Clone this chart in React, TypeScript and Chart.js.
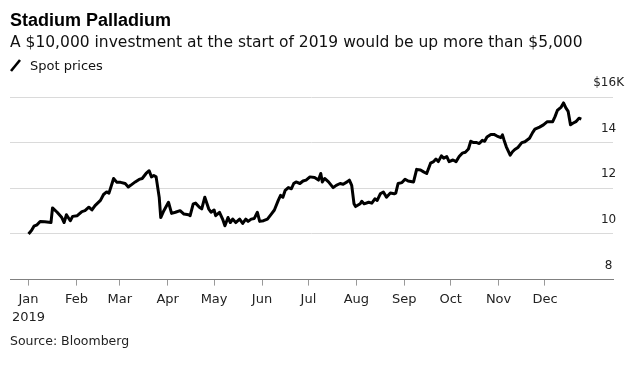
import React, { useEffect, useRef } from "react";
import { Chart, registerables } from "chart.js";

Chart.register(...registerables);

// Day of year 2019 (0 = Jan 1) and value of a $10,000 investment, in $K
const days = [
  0, 2, 3.5, 5.5, 7.5, 10.5, 14.5, 15.5, 18.5, 21.5, 23, 24.5, 27, 28.5, 31.5, 34.5, 36.5, 39, 41, 43,
  46.5, 48.5, 50.5, 52, 54, 55, 57, 59.5, 62.5, 64.5, 66, 69, 71.5, 73.5, 76, 78, 79.5, 81, 82.5, 84.5,
  85.5, 87.5, 90.5, 92.5, 95, 98, 100.5, 103.5, 104.5, 106.5, 108, 110.5, 112, 114, 116.5, 118, 120, 121,
  123.5, 125.5, 127, 129, 130.5, 132, 134, 136.5, 138.5, 140.5, 142, 144, 146, 148, 149.5, 152, 154.5,
  157, 159, 161.5, 163, 164.5, 166, 168, 170, 171.5, 173, 175.5, 177.5, 179.5, 182, 185, 187.5, 189, 190,
  191.5, 194, 197, 199, 201.5, 203.5, 206, 207.5, 209, 210.5, 211.5, 214.5, 215.5, 217, 220, 222, 224,
  225.5, 227.5, 229.5, 231.5, 234, 236.5, 237.5, 239, 241.5, 243.5, 245.5, 249, 251, 253.5, 255.5, 257.5,
  260, 262, 263.5, 265, 267, 268.5, 270.5, 272, 274.5, 276.5, 278.5, 280.5, 282.5, 284.5, 286, 287.5,
  289.5, 291.5, 293.5, 295, 296.5, 299, 301, 303, 305.5, 306.5, 307.5, 309, 311.5, 313, 314.5, 316.5, 319,
  321, 324, 326, 327.5, 330.5, 333, 335.5, 339, 340.5, 342, 344.5, 346, 347.5, 349, 350.5, 352, 354, 356,
  357.5,
];

const spotValues = [
  10.0, 10.16, 10.34, 10.4, 10.55, 10.53, 10.5, 11.14, 10.95, 10.72, 10.5, 10.84, 10.58, 10.77, 10.8, 10.98,
  11.02, 11.17, 11.05, 11.24, 11.47, 11.73, 11.84, 11.79, 12.21, 12.43, 12.27, 12.26, 12.21, 12.06, 12.13,
  12.28, 12.39, 12.43, 12.65, 12.77, 12.5, 12.56, 12.5, 11.61, 10.72, 11.02, 11.39, 10.9, 10.95, 11.02,
  10.87, 10.84, 10.8, 11.32, 11.35, 11.17, 11.1, 11.61, 11.1, 10.95, 11.05, 10.8, 10.95, 10.65, 10.36,
  10.72, 10.5, 10.65, 10.5, 10.65, 10.46, 10.65, 10.55, 10.65, 10.68, 10.95, 10.55, 10.58, 10.65, 10.87,
  11.05, 11.47, 11.69, 11.61, 11.91, 12.03, 11.98, 12.21, 12.28, 12.21, 12.32, 12.36, 12.5, 12.47, 12.36,
  12.65, 12.28, 12.43, 12.28, 12.03, 12.13, 12.21, 12.18, 12.28, 12.36, 12.13, 11.32, 11.2, 11.32, 11.43,
  11.32, 11.39, 11.35, 11.54, 11.47, 11.76, 11.84, 11.61, 11.79, 11.76, 11.79, 12.21, 12.25, 12.4, 12.32,
  12.28, 12.83, 12.8, 12.72, 12.65, 13.1, 13.17, 13.28, 13.17, 13.42, 13.32, 13.39, 13.17, 13.24, 13.17,
  13.39, 13.54, 13.58, 13.72, 14.06, 14.01, 14.01, 13.96, 14.1, 14.06, 14.25, 14.36, 14.36, 14.29, 14.22,
  14.34, 14.12, 13.82, 13.45, 13.6, 13.7, 13.79, 14.0, 14.04, 14.19, 14.44, 14.59, 14.68, 14.78, 14.92,
  14.92, 15.14, 15.41, 15.56, 15.74, 15.52, 15.37, 14.78, 14.85, 14.92, 15.07, 15.03,
];

const monthDays = [0, 31, 59, 90, 120, 151, 181, 212, 243, 273, 304, 334];
const monthLabels = ["Jan", "Feb", "Mar", "Apr", "May", "Jun", "Jul", "Aug", "Sep", "Oct", "Nov", "Dec"];
const yearLabel = "2019";
const yTickValues = [8, 10, 12, 14, 16];
const yTickLabels = ["8", "10", "12", "14", "$16K"];

const titleText = "Stadium Palladium";
const subtitleText = "A $10,000 investment at the start of 2019 would be up more than $5,000";
const legendText = "Spot prices";
const sourceText = "Source: Bloomberg";

export default function App() {
  const canvasRef = useRef<HTMLCanvasElement | null>(null);

  useEffect(() => {
    const canvas = canvasRef.current;
    if (!canvas) return;
    const chart = new Chart(canvas, {
      type: "line",
      data: {
        datasets: [
          {
            label: legendText,
            data: days.map((d, i) => ({ x: d, y: spotValues[i] })),
            borderColor: "#000",
            borderWidth: 3,
            borderJoinStyle: "round",
            pointRadius: 0,
            pointHoverRadius: 0,
            tension: 0,
            fill: false,
          },
        ],
      },
      options: {
        animation: false,
        responsive: false,
        events: [],
        layout: { padding: { left: 10, right: 0, top: 97, bottom: 33 } },
        plugins: {
          legend: { display: false },
          tooltip: { enabled: false },
          title: { display: false },
        },
        scales: {
          x: {
            type: "linear",
            min: -12,
            max: 378,
            afterBuildTicks: (scale: any) => {
              scale.ticks = monthDays.map((v) => ({ value: v }));
            },
            ticks: {
              autoSkip: false,
              maxRotation: 0,
              minRotation: 0,
              padding: 5,
              color: "#222",
              font: { family: "DejaVu Sans", size: 13, lineHeight: 1.4 },
              callback: (value: any) => {
                const i = monthDays.indexOf(Number(value));
                if (i === 0) return [monthLabels[0], yearLabel];
                return i >= 0 ? monthLabels[i] : "";
              },
            },
            grid: {
              display: true,
              drawOnChartArea: false,
              drawTicks: true,
              tickLength: 6,
              color: "#999",
              tickColor: "#999",
            },
            border: { display: true, color: "#808080", width: 1 },
          },
          y: {
            position: "right",
            min: 8,
            max: 16,
            afterBuildTicks: (scale: any) => {
              scale.ticks = yTickValues.map((v) => ({ value: v }));
            },
            ticks: {
              mirror: true,
              crossAlign: "center",
              padding: 11,
              labelOffset: -14,
              color: "#222",
              font: { family: "DejaVu Sans", size: 12 },
              callback: (value: any) => {
                const i = yTickValues.indexOf(Number(value));
                return i >= 0 ? yTickLabels[i] : "";
              },
            },
            grid: {
              drawTicks: false,
              color: (ctx: any) => (ctx.tick && ctx.tick.value === 8 ? "rgba(0,0,0,0)" : "#dadada"),
            },
            border: { display: false },
          },
        },
      },
    });
    return () => chart.destroy();
  }, []);

  return (
    <div
      style={{
        position: "fixed",
        left: 0,
        top: 0,
        width: 635,
        height: 365,
        background: "#fff",
        overflow: "hidden",
      }}
    >
      <canvas ref={canvasRef} width={635} height={365} style={{ display: "block", width: 635, height: 365 }} />
      <div
        style={{
          position: "absolute",
          left: 10,
          top: 11,
          font: 'bold 18px "Liberation Sans"',
          lineHeight: "18px",
          color: "#000",
          whiteSpace: "nowrap",
        }}
      >
        {titleText}
      </div>
      <div
        style={{
          position: "absolute",
          left: 10,
          top: 35.4,
          font: '15.5px "DejaVu Sans"',
          lineHeight: "15.5px",
          color: "#111",
          whiteSpace: "nowrap",
        }}
      >
        {subtitleText}
      </div>
      <svg style={{ position: "absolute", left: 8, top: 56 }} width={16} height={18}>
        <line x1={3} y1={15} x2={12} y2={4} stroke="#000" strokeWidth={2.6} />
      </svg>
      <div
        style={{
          position: "absolute",
          left: 30,
          top: 59,
          font: '13px "DejaVu Sans"',
          lineHeight: "13px",
          color: "#111",
          whiteSpace: "nowrap",
        }}
      >
        {legendText}
      </div>
      <div
        style={{
          position: "absolute",
          left: 10,
          top: 335.4,
          font: '12.5px "DejaVu Sans"',
          lineHeight: "12.5px",
          color: "#222",
          whiteSpace: "nowrap",
        }}
      >
        {sourceText}
      </div>
    </div>
  );
}
